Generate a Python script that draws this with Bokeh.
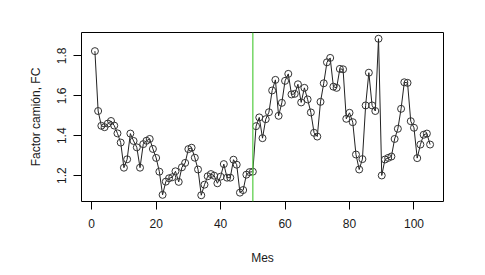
from bokeh.plotting import figure
from bokeh.models import Range1d, FixedTicker, Span, ColumnDataSource
from bokeh.embed import file_html
from bokeh.resources import INLINE

mes = list(range(1, 106))
fc = [1.824, 1.524, 1.450, 1.443, 1.461, 1.474, 1.451, 1.412, 1.366, 1.240,
      1.282, 1.411, 1.374, 1.342, 1.240, 1.358, 1.375, 1.384, 1.334, 1.289,
      1.220, 1.104, 1.170, 1.187, 1.192, 1.222, 1.169, 1.242, 1.264, 1.333,
      1.340, 1.290, 1.231, 1.102, 1.155, 1.197, 1.208, 1.200, 1.162, 1.195,
      1.258, 1.190, 1.190, 1.280, 1.255, 1.115, 1.128, 1.205, 1.218, 1.220,
      1.448, 1.492, 1.388, 1.483, 1.518, 1.627, 1.680, 1.500, 1.565, 1.675,
      1.710, 1.607, 1.610, 1.658, 1.567, 1.640, 1.582, 1.517, 1.415, 1.396,
      1.570, 1.663, 1.768, 1.790, 1.646, 1.640, 1.735, 1.733, 1.485, 1.515,
      1.468, 1.306, 1.231, 1.283, 1.552, 1.716, 1.552, 1.524, 1.886, 1.201,
      1.281, 1.289, 1.296, 1.384, 1.435, 1.535, 1.668, 1.665, 1.473, 1.440,
      1.288, 1.356, 1.405, 1.411, 1.356]
x_ticks = [0, 20, 40, 60, 80, 100]
y_ticks = [1.2, 1.4, 1.6, 1.8]
corte = 50
x_title = "Mes"
y_title = "Factor camión, FC"

# R-style 4% range extension
xmin, xmax = min(mes), max(mes)
ymin, ymax = min(fc), max(fc)
dx = (xmax - xmin) * 0.04
dy = (ymax - ymin) * 0.04

FONT = "Liberation Sans"
TXT = "#1a1a1a"

p = figure(width=485, height=275, output_backend="svg", toolbar_location=None,
           x_range=Range1d(xmin - dx, xmax + dx), y_range=Range1d(ymin - dy, ymax + dy),
           min_border_left=81, min_border_right=42, min_border_top=32, min_border_bottom=74)
p.background_fill_color = "white"
p.border_fill_color = "white"
p.outline_line_color = "black"
p.outline_line_width = 1
p.xgrid.visible = False
p.ygrid.visible = False

src = ColumnDataSource(dict(x=mes, y=fc))
p.line("x", "y", source=src, line_color="#222222", line_width=1)
p.scatter("x", "y", source=src, marker="circle", size=7, fill_color=None,
          line_color="#333333", line_width=1)

p.add_layout(Span(location=corte, dimension="height", line_color="#61D04F", line_width=1.3))

for ax in (p.xaxis[0], p.yaxis[0]):
    ax.axis_line_color = None
    ax.minor_tick_line_color = None
    ax.major_tick_line_color = "black"
    ax.major_tick_in = 0
    ax.major_tick_out = 8
    ax.major_label_text_font = FONT
    ax.major_label_text_font_size = "12px"
    ax.major_label_text_color = TXT
    ax.axis_label_text_font = FONT
    ax.axis_label_text_font_size = "12px"
    ax.axis_label_text_font_style = "normal"
    ax.axis_label_text_color = TXT

p.xaxis[0].ticker = FixedTicker(ticks=x_ticks)
p.yaxis[0].ticker = FixedTicker(ticks=y_ticks)
p.xaxis[0].axis_label = x_title
p.yaxis[0].axis_label = y_title
p.xaxis[0].major_label_standoff = 9
p.xaxis[0].axis_label_standoff = 20
p.yaxis[0].major_label_orientation = "vertical"
p.yaxis[0].major_label_standoff = 7
p.yaxis[0].axis_label_standoff = 12

open("out.html", "w").write(file_html(p, INLINE))
